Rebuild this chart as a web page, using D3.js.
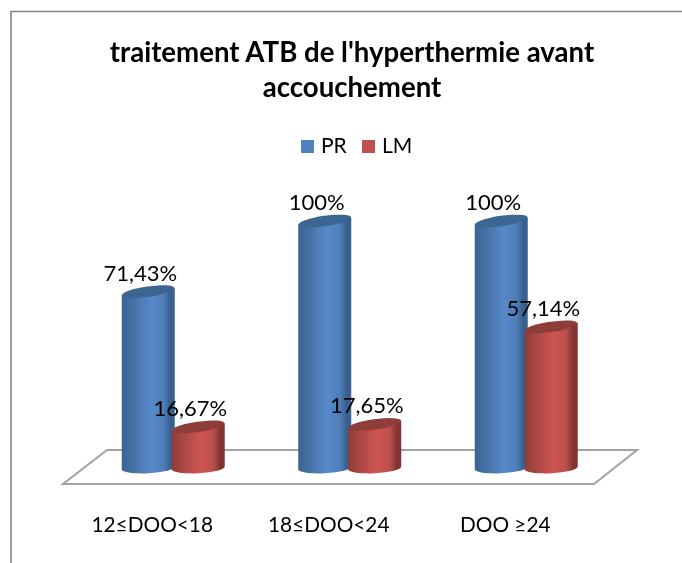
<!DOCTYPE html>
<html><head><meta charset="utf-8">
<script src="https://cdnjs.cloudflare.com/ajax/libs/d3/7.8.5/d3.min.js"></script>
<style>html,body{margin:0;padding:0;background:#fff;overflow:hidden}svg{display:block;filter:blur(0.35px)}text{font-family:Lato,"Open Sans",sans-serif;fill:#000}</style>
</head><body><script>
const titleLines = ["traitement ATB de l'hyperthermie avant", "accouchement"];
const categories = ["12≤DOO<18", "18≤DOO<24", "DOO ≥24"];
const seriesNames = ["PR", "LM"];
const valuesPR = [71.43, 100, 100];
const valuesLM = [16.67, 17.65, 57.14];
const seriesColors = ["#4f81bd", "#c0504d"];

const W = 682, H = 563;
const svg = d3.select("body").append("svg").attr("width", W).attr("height", H);
const defs = svg.append("defs");
const stops = {
  PR: [[0, "#3b6393"], [0.18, "#44709f"], [0.55, "#5789c9"], [0.78, "#4f7fba"], [0.92, "#385f8e"], [1, "#3a628f"]],
  LM: [[0, "#8e3c3a"], [0.18, "#a54543"], [0.55, "#cd5654"], [0.78, "#bc4f4c"], [0.92, "#7f3432"], [1, "#823533"]]
};
seriesNames.forEach(s => {
  const g = defs.append("linearGradient").attr("id", "grad" + s);
  stops[s].forEach(([o, c]) => g.append("stop").attr("offset", o).attr("stop-color", c));
});
const topColor = {PR: "#3c6592", LM: "#8f3d3a"};

// frame
svg.append("path").attr("d", `M11,${H}V11.5H${W}`).attr("fill", "none").attr("stroke", "#868686").attr("stroke-width", 1.6);

// scales
const x = d3.scaleBand().domain(categories).range([85, 614.5]);
const xs = d3.scaleBand().domain(seriesNames).range([-50, 50]);
const y = d3.scaleLinear().domain([0, 100]).range([468, 221]);
const fmt = d3.formatLocale({decimal: ",", thousands: " ", grouping: [3], currency: ["", "%"]}).format(".2~f");

// floor
svg.append("path").attr("d", "M63,484H594L637,450H107Z")
  .attr("fill", "#fff").attr("stroke", "#a2a2a2").attr("stroke-width", 2);

// cylinders
const rx = 26.5, ry = 5.2, rot = -8, dy = 3.6, botRot = -3, botDy = 1.4;
const data = [];
categories.forEach((c, i) => {
  data.push({c, s: "PR", v: valuesPR[i]});
  data.push({c, s: "LM", v: valuesLM[i]});
});
const cx = d => x(d.c) + x.bandwidth() / 2 + xs(d.s) + xs.bandwidth() / 2;
const marks = svg.append("g").selectAll("g").data(data).join("g");
marks.append("path").attr("fill", d => `url(#grad${d.s})`).attr("d", d => {
  const l = cx(d) - rx, r = cx(d) + rx, t = y(d.v), b = y(0);
  return `M${l},${t + dy}L${l},${b + botDy}A${rx},${ry} ${botRot} 0 0 ${r},${b - botDy}L${r},${t - dy}Z`;
});
marks.append("ellipse").attr("fill", d => topColor[d.s])
  .attr("rx", rx).attr("ry", ry)
  .attr("transform", d => `translate(${cx(d)},${y(d.v)}) rotate(${rot})`);

// value labels
svg.append("g").selectAll("text").data(data).join("text")
  .attr("x", d => cx(d) - 8).attr("y", d => y(d.v) - 11)
  .attr("text-anchor", "middle").attr("font-size", 22).text(d => fmt(d.v) + "%");

// category labels
svg.append("g").selectAll("text").data(categories).join("text")
  .attr("x", c => x(c) + x.bandwidth() / 2 - 21).attr("y", 532)
  .attr("text-anchor", "middle").attr("font-size", 20.8).text(c => c);

// title
svg.append("g").selectAll("text").data(titleLines).join("text")
  .attr("x", 352).attr("y", (d, i) => 62 + i * 35)
  .attr("text-anchor", "middle").attr("font-size", 27.6).attr("font-weight", 700).text(d => d);

// legend
const legX = d3.scalePoint().domain(seriesNames).range([301, 362]);
const leg = svg.append("g").selectAll("g").data(seriesNames).join("g");
leg.append("rect").attr("x", s => legX(s)).attr("y", 140).attr("width", 13).attr("height", 13)
  .attr("fill", (s, i) => seriesColors[i]);
leg.append("text").attr("x", s => legX(s) + 20).attr("y", 153).attr("font-size", 21).text(s => s);
</script></body></html>
